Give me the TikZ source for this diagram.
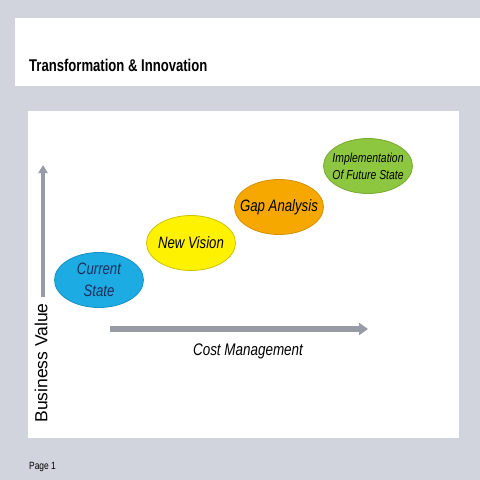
\documentclass[tikz,border=0pt]{standalone}
\usepackage{fontspec}
\setmainfont{Liberation Sans}
\newfontfamily\narrowfont[FakeStretch=0.8]{Liberation Sans}
\newfontfamily\titlefont[FakeStretch=0.77]{Liberation Sans}
\usetikzlibrary{shapes.geometric,arrows.meta}
\definecolor{slidegray}{HTML}{D1D4DC}
\definecolor{axisgray}{HTML}{979BA6}
\definecolor{stepblue}{HTML}{1CABE2}
\definecolor{stepyellow}{HTML}{FFF200}
\definecolor{steporange}{HTML}{F7A800}
\definecolor{stepgreen}{HTML}{8DC63F}
\definecolor{navytext}{HTML}{1F2D5C}
\tikzset{
  stage/.style={shape=ellipse,draw,line width=0.8pt,minimum width=89pt,minimum height=55pt,inner sep=0pt},
  stagetext/.style={inner sep=0pt,align=center,font=\narrowfont\itshape\fontsize{16.5}{22}\selectfont},
  axis/.style={draw=axisgray,line cap=butt}
}
\begin{document}
\begin{tikzpicture}[x=1pt,y=-1pt]
\useasboundingbox (0,0) rectangle (480,480);
\fill[slidegray] (0,0) rectangle (480,480);
\fill[white] (15,18) rectangle (480,86);
\fill[white] (28,111) rectangle (459,438);

\node(title) at (29,65)[anchor=west,inner sep=0pt,font=\titlefont\bfseries\fontsize{17}{20}\selectfont] {Transformation \& Innovation};
\node(page) at (29,467)[anchor=west,inner sep=0pt,font=\narrowfont\fontsize{10.5}{12}\selectfont] {Page 1};

\node(current) at (99,280)[stage,fill=stepblue,draw=stepblue!85!black,
  label={[stagetext,text=navytext]center:Current\\State}] {};
\node(vision)  at (191,243)[stage,fill=stepyellow,draw=stepyellow!80!black,
  label={[stagetext]center:New Vision}] {};
\node(gap)     at (279,207)[stage,fill=steporange,draw=steporange!85!black,
  label={[stagetext]center:Gap Analysis}] {};
\node(future)  at (368,166)[stage,fill=stepgreen,draw=stepgreen!85!black,
  label={[stagetext,font=\narrowfont\itshape\fontsize{13}{17}\selectfont]center:Implementation\\Of Future State}] {};

\coordinate(ybase) at (43,297);
\coordinate(ytop)  at (43,165);
\coordinate(xbase) at (110,329);
\coordinate(xtip)  at (368,329);
\draw[axis,line width=4pt,-{Triangle[width=9pt,length=8pt]}] (ybase) -- (ytop);
\draw[axis,line width=6pt,-{Triangle[width=12pt,length=9pt]}] (xbase) -- (xtip);

\node(value) at (41,363)[rotate=90,inner sep=0pt,font=\fontsize{17.5}{20}\selectfont] {Business Value};
\node(cost)  at (248,351)[inner sep=0pt,font=\narrowfont\itshape\fontsize{16.8}{19}\selectfont] {Cost Management};
\end{tikzpicture}
\end{document}
